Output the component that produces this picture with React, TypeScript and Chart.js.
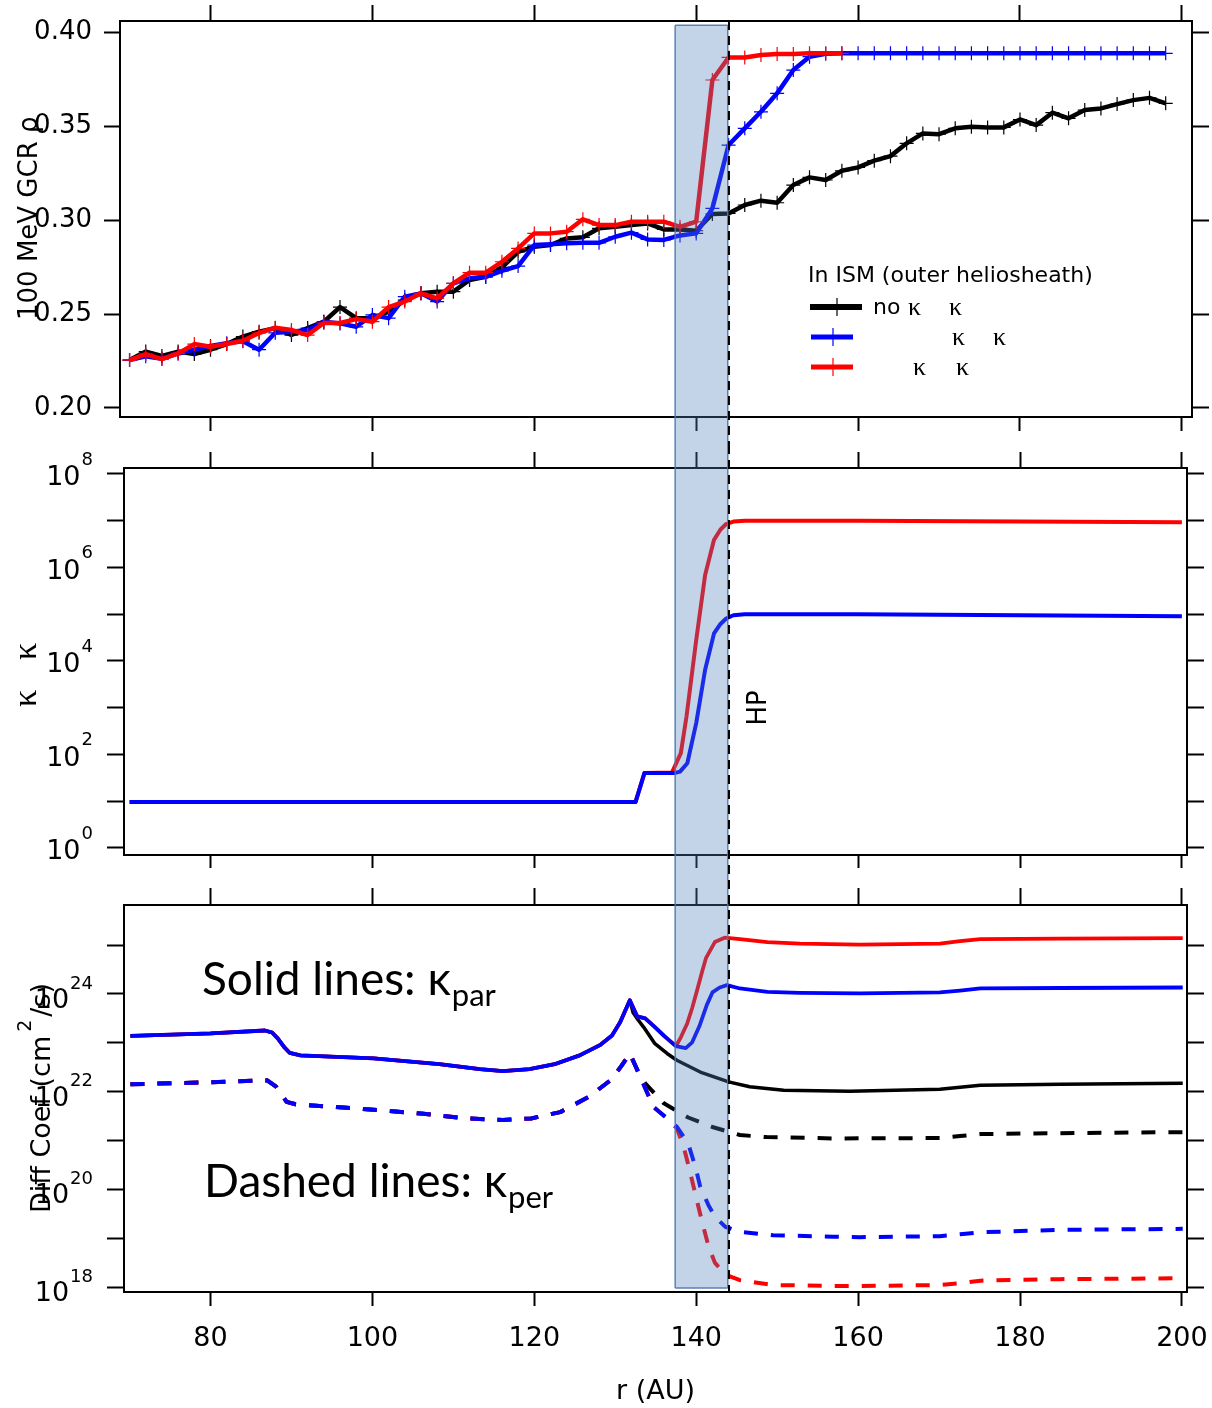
import { useEffect, useRef } from "react";
import { Chart, registerables } from "chart.js";

Chart.register(...registerables);
Chart.defaults.font.family = "DejaVu Sans";

// ---------------- shared x axis ----------------
const X_TICKS = [80, 100, 120, 140, 160, 180, 200];
const X_TITLE = "r (AU)";

// ---------------- shaded region / heliopause ----------------
const BAND_START_AU = 137.4;
const BAND_END_AU = 143.9;
const HELIOPAUSE_AU = 144.05;
const HELIOPAUSE_LABEL = "HP";

// ---------------- panel 1: 100 MeV GCR rho ----------------
const RHO_TITLE = "100 MeV GCR ρ";
const RHO_TICKS = [0.2, 0.25, 0.3, 0.35, 0.4];
const R_RHO = [
  70, 72, 74, 76, 78, 80, 82, 84, 86, 88, 90, 92, 94, 96, 98, 100, 102, 104, 106, 108,
  110, 112, 114, 116, 118, 120, 122, 124, 126, 128, 130, 132, 134, 136, 138, 140, 142, 144, 146, 148,
  150, 152, 154, 156, 158, 160, 162, 164, 166, 168, 170, 172, 174, 176, 178, 180, 182, 184, 186, 188,
  190, 192, 194, 196, 198,
];
const RHO_NO_CHANGE = [
  0.2255, 0.23, 0.2277, 0.23, 0.2287, 0.231, 0.234, 0.238, 0.2406, 0.2425,
  0.2388, 0.2425, 0.2459, 0.2537, 0.2478, 0.2478, 0.2512, 0.2574, 0.261, 0.2619,
  0.2619, 0.2681, 0.2698, 0.2748, 0.2831, 0.2858, 0.2867, 0.2902, 0.2908, 0.2956,
  0.2964, 0.2973, 0.2982, 0.295, 0.295, 0.2943, 0.3032, 0.3035, 0.308, 0.3103,
  0.3092, 0.3186, 0.3227, 0.3213, 0.3262, 0.328, 0.3316, 0.334, 0.3408, 0.3461,
  0.3457, 0.3488, 0.3496, 0.3493, 0.3493, 0.3535, 0.3505, 0.3571, 0.3541, 0.3585,
  0.3594, 0.3617, 0.3638, 0.365, 0.3621,
];
const RHO_BLUE = [
  0.2255, 0.2275, 0.2262, 0.229, 0.231, 0.233, 0.2345, 0.2355, 0.231, 0.24,
  0.2406, 0.2415, 0.2459, 0.245, 0.2432, 0.2495, 0.2478, 0.2592, 0.261, 0.2566,
  0.2663, 0.269, 0.2698, 0.273, 0.2755, 0.2867, 0.2871, 0.2876, 0.2879, 0.2879,
  0.2911, 0.2933, 0.2897, 0.2894, 0.2918, 0.2929, 0.3062, 0.3399, 0.3488, 0.3576,
  0.3674, 0.3798, 0.3869, 0.3885, 0.3887, 0.3887, 0.3887, 0.3887, 0.3887, 0.3887,
  0.3887, 0.3887, 0.3887, 0.3887, 0.3887, 0.3887, 0.3887, 0.3887, 0.3887, 0.3887,
  0.3887, 0.3887, 0.3887, 0.3887, 0.3887,
];
const R_RHO_RED = [
  70, 72, 74, 76, 78, 80, 82, 84, 86, 88, 90, 92, 94, 96, 98, 100, 102, 104, 106, 108,
  110, 112, 114, 116, 118, 120, 122, 124, 126, 128, 130, 132, 134, 136, 138, 140, 142, 144, 146, 148,
  150, 152, 154, 156, 158,
];
const RHO_RED = [
  0.2255, 0.2287, 0.226, 0.229, 0.234, 0.2326, 0.234, 0.2358, 0.2399, 0.2427,
  0.2415, 0.2388, 0.2452, 0.2452, 0.2473, 0.2459, 0.2537, 0.2566, 0.261, 0.2583,
  0.2663, 0.272, 0.272, 0.2778, 0.2849, 0.2929, 0.2929, 0.2938, 0.3004, 0.2973,
  0.2973, 0.2991, 0.2991, 0.2991, 0.2964, 0.2991, 0.3745, 0.3865, 0.3865, 0.3878,
  0.3883, 0.3883, 0.3887, 0.3887, 0.3887,
];
const LEGEND_TITLE = "In ISM (outer heliosheath)";

// ---------------- panel 2: kappa ratio ----------------
const RATIO_DECADES = [0, 1, 2, 3, 4, 5, 6, 7, 8];
const RATIO_LABELLED = [0, 2, 4, 6, 8];
const R_RATIO_BLUE = [70, 132.5, 133.6, 137.3, 138.0, 138.9, 140.0, 141.1, 142.2, 143.0, 143.7, 144.6, 146.0, 160, 200];
const RATIO_BLUE = [9.6, 9.6, 40, 40, 43, 65, 470, 6500, 39000, 62000, 81000, 95000, 100000, 100000, 91000];
const R_RATIO_RED = [70, 132.5, 133.6, 137.0, 138.1, 138.8, 140.0, 141.1, 142.2, 143.0, 143.7, 144.6, 146.0, 160, 200];
const RATIO_RED = [9.6, 9.6, 40, 41, 107, 650, 28000, 690000, 3.9e6, 6.5e6, 8.5e6, 9.6e6, 1.0e7, 1.0e7, 9.3e6];

// ---------------- panel 3: diffusion coefficients ----------------
const DIFF_DECADES = [18, 19, 20, 21, 22, 23, 24, 25];
const DIFF_LABELLED = [18, 20, 22, 24];
const ANNOT_PAR = "Solid lines: κ";
const ANNOT_PAR_SUB = "par";
const ANNOT_PER = "Dashed lines: κ";
const ANNOT_PER_SUB = "per";

// kappa_par, common part (all three runs)
const R_KPAR_INNER = [70.1, 80, 86.7, 87.6, 88.3, 89.1, 89.8, 91.1, 100.1, 108.3, 113.3, 116.1, 119.4, 122.5, 125.6, 128.1, 129.6, 130.6, 131.8];
const KPAR_INNER = [1.38e23, 1.55e23, 1.78e23, 1.62e23, 1.23e23, 8.13e22, 6.17e22, 5.5e22, 4.79e22, 3.63e22, 2.88e22, 2.63e22, 2.88e22, 3.63e22, 5.5e22, 8.91e22, 1.41e23, 2.63e23, 7.41e23];
const R_KPAR_BLUE_TAIL = [132.7, 133.7, 134.9, 136.1, 137.5, 138.7, 139.5, 140.4, 141.3, 142.0, 142.9, 143.8, 145.4, 148.8, 152.8, 160.2, 170.1, 172.6, 175.1, 185, 200.1];
const KPAR_BLUE_TAIL = [3.47e23, 3.16e23, 2.09e23, 1.35e23, 8.51e22, 7.76e22, 1.02e23, 2.19e23, 5.89e23, 1.07e24, 1.35e24, 1.51e24, 1.29e24, 1.1e24, 1.05e24, 1.02e24, 1.07e24, 1.17e24, 1.29e24, 1.32e24, 1.35e24];
const R_KPAR_RED_TAIL = [132.7, 133.7, 134.9, 136.1, 137.5, 138.1, 138.9, 139.5, 140.1, 140.7, 141.2, 142.3, 143.5, 145.4, 148.8, 152.8, 160.2, 170.1, 172.6, 175.1, 185, 200.1];
const KPAR_RED_TAIL = [3.47e23, 3.16e23, 2.09e23, 1.35e23, 8.51e22, 1.29e23, 2.51e23, 5.13e23, 1.17e24, 2.75e24, 5.37e24, 1.15e25, 1.41e25, 1.32e25, 1.15e25, 1.07e25, 1.02e25, 1.07e25, 1.2e25, 1.32e25, 1.35e25, 1.38e25];
const R_KPAR_BLACK_TAIL = [132.2, 132.85, 133.5, 134.9, 136.4, 137.6, 140.5, 144.0, 146.6, 150.8, 159, 170.1, 172.6, 175.1, 185, 200.1];
const KPAR_BLACK_TAIL = [4.17e23, 2.88e23, 2.09e23, 9.55e22, 6.03e22, 4.37e22, 2.51e22, 1.58e22, 1.26e22, 1.07e22, 1.02e22, 1.12e22, 1.23e22, 1.35e22, 1.41e22, 1.48e22];

// kappa_per, common part (all three runs)
const R_KPER_INNER = [70.1, 80, 87.0, 88.1, 89.4, 90.5, 98.5, 106, 111.7, 116.1, 119.6, 123.2, 126.7, 129.4, 130.7, 131.8];
const KPER_INNER = [1.41e22, 1.55e22, 1.7e22, 1.26e22, 6.17e21, 5.5e21, 4.47e21, 3.55e21, 2.82e21, 2.63e21, 2.82e21, 3.8e21, 7.76e21, 1.7e22, 3.24e22, 6.03e22];
const R_KPER_BLUE_TAIL = [133.1, 134.7, 136.4, 137.6, 139.0, 139.9, 140.5, 141.5, 142.3, 143.6, 145.4, 149.5, 156.9, 160.2, 170.1, 172.6, 175.1, 185, 200.1];
const KPER_BLUE_TAIL = [2.0e22, 4.9e21, 2.82e21, 1.91e21, 8.71e20, 2.88e20, 1.12e20, 4.79e19, 2.75e19, 1.7e19, 1.35e19, 1.15e19, 1.07e19, 1.05e19, 1.1e19, 1.2e19, 1.32e19, 1.48e19, 1.55e19];
const R_KPER_RED_TAIL = [133.1, 134.7, 136.4, 137.6, 138.4, 139.1, 139.9, 140.7, 141.5, 142.3, 143.6, 145.4, 149.5, 156.9, 160.2, 170.1, 172.6, 175.1, 185, 200.1];
const KPER_RED_TAIL = [2.0e22, 4.9e21, 2.82e21, 1.78e21, 7.94e20, 2.82e20, 7.94e19, 2.24e19, 7.08e18, 3.16e18, 1.78e18, 1.38e18, 1.1e18, 1.05e18, 1.05e18, 1.1e18, 1.2e18, 1.35e18, 1.45e18, 1.51e18];
const R_KPER_BLACK_TAIL = [133.1, 133.7, 136.0, 139.0, 142.1, 145.4, 148.7, 156.9, 170.1, 172.6, 175.1, 185, 200.1];
const KPER_BLACK_TAIL = [2.0e22, 1.48e22, 5.75e21, 2.95e21, 1.86e21, 1.29e21, 1.17e21, 1.1e21, 1.12e21, 1.23e21, 1.35e21, 1.41e21, 1.48e21];

// ---------------- styling / layout ----------------
const BLACK = "#000000";
const BLUE = "#0000ff";
const RED = "#ff0000";
const SANS = '"DejaVu Sans"';
const SERIF = '"Liberation Serif"';

const TOP_X_RANGE = [68.82, 201.25];
const LOW_X_RANGE = [69.31, 200.63];
const RHO_RANGE = [0.1952, 0.4059];
const RATIO_RANGE = [0.708, 1.343e8];
const DIFF_RANGE = [7.91e17, 6.59e25];
const BAND_TOP_RHO = 0.4037;
const BAND_BOTTOM_DIFF = 9.5e17;

const pts = (xs: number[], ys: number[]) => xs.map((x, i) => ({ x, y: ys[i] }));

function line(label: string, xs: number[], ys: number[], color: string, width: number, dash: number[] = []) {
  return {
    label,
    data: pts(xs, ys),
    borderColor: color,
    backgroundColor: color,
    borderWidth: width,
    borderDash: dash,
    borderJoinStyle: "round",
    pointRadius: 0,
    tension: 0,
    fill: false,
  };
}

function markedLine(label: string, xs: number[], ys: number[], color: string) {
  return {
    ...line(label, xs, ys, color, 4.5),
    pointStyle: "cross",
    pointRadius: 7,
    pointBorderWidth: 1.2,
    pointBorderColor: color,
    pointBackgroundColor: color,
  };
}

function noPad(s: any) {
  s.paddingLeft = 0;
  s.paddingRight = 0;
  s.paddingTop = 0;
  s.paddingBottom = 0;
}

function xAxis(position: "bottom" | "top", range: number[], box: number, tickLength: number, labels: boolean, title?: string) {
  return {
    type: "linear",
    position,
    min: range[0],
    max: range[1],
    bounds: "data",
    afterBuildTicks: (s: any) => {
      s.ticks = X_TICKS.map((value) => ({ value }));
    },
    afterFit: (s: any) => {
      s.height = box;
      noPad(s);
    },
    grid: { drawOnChartArea: false, drawTicks: true, tickLength, tickWidth: 2, tickColor: BLACK },
    border: { display: true, color: BLACK, width: 2 },
    ticks: {
      display: labels,
      autoSkip: false,
      maxRotation: 0,
      minRotation: 0,
      padding: 17,
      color: BLACK,
      font: { family: "DejaVu Sans", size: 27 },
    },
    title: title
      ? { display: true, text: title, color: BLACK, font: { family: "DejaVu Sans", size: 27 }, padding: { top: 0, bottom: 0 } }
      : { display: false },
  };
}

function yAxis(
  position: "left" | "right",
  type: string,
  range: number[],
  box: number,
  tickLength: number,
  values: number[],
  labels: boolean
) {
  return {
    type,
    position,
    min: range[0],
    max: range[1],
    bounds: "data",
    afterBuildTicks: (s: any) => {
      s.ticks = values.map((value) => ({ value }));
    },
    afterFit: (s: any) => {
      s.width = box;
      noPad(s);
    },
    grid: { drawOnChartArea: false, drawTicks: true, tickLength, tickWidth: 2, tickColor: BLACK },
    border: { display: true, color: BLACK, width: 2 },
    ticks: {
      display: labels,
      autoSkip: false,
      padding: 12,
      color: BLACK,
      font: { family: "DejaVu Sans", size: 26 },
      callback: (v: any) => Number(v).toFixed(2),
    },
  };
}

function baseOptions(scales: any) {
  return {
    responsive: false,
    maintainAspectRatio: false,
    animation: false,
    devicePixelRatio: 1,
    events: [],
    layout: { padding: 0 },
    plugins: { legend: { display: false }, tooltip: { enabled: false }, title: { display: false } },
    scales,
  };
}

// shaded band + dashed heliopause line, continuous across the three canvases
function bandAndHp(mode: "first" | "middle" | "last", edgeValue: number) {
  return {
    id: "bandAndHp",
    afterDatasetsDraw(chart: any) {
      const { ctx, chartArea } = chart;
      const xs = chart.scales.x;
      const ys = chart.scales.y;
      const h = chart.height;
      const xa = xs.getPixelForValue(BAND_START_AU);
      const xb = xs.getPixelForValue(BAND_END_AU);
      const y0 = mode === "first" ? ys.getPixelForValue(edgeValue) : 0;
      const y1 = mode === "last" ? ys.getPixelForValue(edgeValue) : h;
      ctx.save();
      ctx.fillStyle = "rgba(79,129,189,0.34)";
      ctx.fillRect(xa, y0, xb - xa, y1 - y0);
      ctx.strokeStyle = "rgba(75,120,180,0.9)";
      ctx.lineWidth = 1.5;
      ctx.beginPath();
      ctx.moveTo(xa, y0);
      ctx.lineTo(xa, y1);
      ctx.moveTo(xb, y0);
      ctx.lineTo(xb, y1);
      if (mode === "first") {
        ctx.moveTo(xa, y0);
        ctx.lineTo(xb, y0);
      }
      if (mode === "last") {
        ctx.moveTo(xa, y1);
        ctx.lineTo(xb, y1);
      }
      ctx.stroke();
      const xh = xs.getPixelForValue(HELIOPAUSE_AU);
      const h0 = mode === "first" ? chartArea.top : 0;
      const h1 = mode === "last" ? chartArea.bottom : h;
      ctx.setLineDash([9, 6]);
      ctx.strokeStyle = BLACK;
      ctx.lineWidth = 2;
      ctx.beginPath();
      ctx.moveTo(xh, h0);
      ctx.lineTo(xh, h1);
      ctx.stroke();
      ctx.restore();
    },
  };
}

// "10" with superscript exponent, right aligned
function powerLabels(exps: number[], mainDy: number, supDy: number) {
  return {
    id: "powerLabels",
    afterDraw(chart: any) {
      const { ctx } = chart;
      const ys = chart.scales.y;
      const right = 93;
      ctx.save();
      ctx.fillStyle = BLACK;
      ctx.textBaseline = "middle";
      ctx.textAlign = "right";
      for (const e of exps) {
        const y = ys.getPixelForValue(Math.pow(10, e));
        const sup = String(e);
        ctx.font = `18px ${SANS}`;
        const w = ctx.measureText(sup).width;
        ctx.fillText(sup, right, y + supDy);
        ctx.font = `27px ${SANS}`;
        ctx.fillText("10", right - w - 1, y + mainDy);
      }
      ctx.restore();
    },
  };
}

const rhoTexts = {
  id: "rhoTexts",
  afterDraw(chart: any) {
    const { ctx } = chart;
    ctx.save();
    ctx.fillStyle = BLACK;
    ctx.save();
    ctx.translate(37, 320);
    ctx.rotate(-Math.PI / 2);
    ctx.font = `26px ${SANS}`;
    ctx.textAlign = "left";
    ctx.textBaseline = "alphabetic";
    ctx.fillText(RHO_TITLE, 0, 0);
    ctx.restore();

    // legend
    ctx.font = `22px ${SANS}`;
    ctx.textAlign = "left";
    ctx.textBaseline = "middle";
    ctx.fillText(LEGEND_TITLE, 808, 276);
    const rows = [
      { color: BLACK, y: 307, x0: 810, x1: 862, mx: 837, lw: 6, parts: [["no", 873, SANS], ["κ", 908, SERIF], ["κ", 949, SERIF]] },
      { color: BLUE, y: 337, x0: 811, x1: 853, mx: 833, lw: 5, parts: [["κ", 952, SERIF], ["κ", 993, SERIF]] },
      { color: RED, y: 367, x0: 811, x1: 853, mx: 833, lw: 5, parts: [["κ", 913, SERIF], ["κ", 956, SERIF]] },
    ];
    for (const r of rows) {
      ctx.strokeStyle = r.color;
      ctx.lineWidth = r.lw;
      ctx.beginPath();
      ctx.moveTo(r.x0, r.y);
      ctx.lineTo(r.x1, r.y);
      ctx.stroke();
      ctx.lineWidth = 1.2;
      ctx.beginPath();
      ctx.moveTo(r.mx, r.y - 9);
      ctx.lineTo(r.mx, r.y + 9);
      ctx.stroke();
      ctx.fillStyle = BLACK;
      for (const [t, x, fam] of r.parts as any) {
        ctx.font = fam === SANS ? `22px ${SANS}` : `26px ${SERIF}`;
        ctx.fillText(t, x, r.y + 1);
      }
    }
    ctx.restore();
  },
};

const ratioTexts = {
  id: "ratioTexts",
  afterDraw(chart: any) {
    const { ctx } = chart;
    ctx.save();
    ctx.fillStyle = BLACK;
    ctx.save();
    ctx.translate(36, 262);
    ctx.rotate(-Math.PI / 2);
    ctx.font = `34px ${SERIF}`;
    ctx.textAlign = "left";
    ctx.textBaseline = "alphabetic";
    ctx.fillText("κ", 0, 0);
    ctx.fillText("κ", 47, 0);
    ctx.restore();
    ctx.save();
    ctx.translate(759, 263);
    ctx.rotate(-Math.PI / 2);
    ctx.font = `26px ${SANS}`;
    ctx.textAlign = "center";
    ctx.textBaseline = "middle";
    ctx.fillText(HELIOPAUSE_LABEL, 0, 0);
    ctx.restore();
    ctx.restore();
  },
};

const diffTexts = {
  id: "diffTexts",
  afterDraw(chart: any) {
    const { ctx } = chart;
    ctx.save();
    ctx.fillStyle = BLACK;
    // y title with superscript
    ctx.save();
    ctx.translate(50, 333);
    ctx.rotate(-Math.PI / 2);
    ctx.textAlign = "left";
    ctx.textBaseline = "alphabetic";
    ctx.font = `27px ${SANS}`;
    const p1 = "Diff Coef (cm";
    ctx.fillText(p1, 0, 0);
    let x = ctx.measureText(p1).width + 4;
    ctx.font = `19px ${SANS}`;
    ctx.fillText("2", x, -19);
    x += ctx.measureText("2").width + 3;
    ctx.font = `27px ${SANS}`;
    ctx.fillText("/s)", x, 0);
    ctx.restore();

    // annotations
    const notes: [string, string, number, number][] = [
      [ANNOT_PAR, ANNOT_PAR_SUB, 202, 115],
      [ANNOT_PER, ANNOT_PER_SUB, 204, 317],
    ];
    ctx.textAlign = "left";
    ctx.textBaseline = "alphabetic";
    for (const [main, sub, nx, ny] of notes) {
      ctx.font = `46px Lato, ${SANS}`;
      ctx.fillText(main, nx, ny);
      const w = ctx.measureText(main).width;
      ctx.font = `31px Lato, ${SANS}`;
      ctx.fillText(sub, nx + w + 1, ny + 11);
    }
    ctx.restore();
  },
};

function buildRhoChart() {
  return {
    type: "line",
    data: {
      datasets: [
        markedLine("red", R_RHO_RED, RHO_RED, RED),
        markedLine("blue", R_RHO, RHO_BLUE, BLUE),
        markedLine("no change", R_RHO, RHO_NO_CHANGE, BLACK),
      ],
    },
    options: baseOptions({
      x: xAxis("bottom", TOP_X_RANGE, 28, 14, false),
      xTop: xAxis("top", TOP_X_RANGE, 21, 16, false),
      y: yAxis("left", "linear", RHO_RANGE, 120, 16, RHO_TICKS, true),
      yRight: yAxis("right", "linear", RHO_RANGE, 1212 - 1192, 17, RHO_TICKS, false),
    }),
    plugins: [bandAndHp("first", BAND_TOP_RHO), rhoTexts],
  };
}

function buildRatioChart() {
  const decades = RATIO_DECADES.map((e) => Math.pow(10, e));
  return {
    type: "line",
    data: {
      datasets: [
        line("blue", R_RATIO_BLUE, RATIO_BLUE, BLUE, 4),
        line("red", R_RATIO_RED, RATIO_RED, RED, 4),
      ],
    },
    options: baseOptions({
      x: xAxis("bottom", LOW_X_RANGE, 25, 13, false),
      xTop: xAxis("top", LOW_X_RANGE, 23, 16, false),
      y: yAxis("left", "logarithmic", RATIO_RANGE, 124, 17, decades, false),
      yRight: yAxis("right", "logarithmic", RATIO_RANGE, 1212 - 1187, 17, decades, false),
    }),
    plugins: [bandAndHp("middle", 0), powerLabels(RATIO_LABELLED, 4, -14), ratioTexts],
  };
}

function buildDiffChart() {
  const decades = DIFF_DECADES.map((e) => Math.pow(10, e));
  const dash = [14, 13];
  return {
    type: "line",
    data: {
      datasets: [
        line("blue par", [...R_KPAR_INNER, ...R_KPAR_BLUE_TAIL], [...KPAR_INNER, ...KPAR_BLUE_TAIL], BLUE, 3.8),
        line("blue per", [...R_KPER_INNER, ...R_KPER_BLUE_TAIL], [...KPER_INNER, ...KPER_BLUE_TAIL], BLUE, 4, dash),
        line("red par", [...R_KPAR_INNER, ...R_KPAR_RED_TAIL], [...KPAR_INNER, ...KPAR_RED_TAIL], RED, 3.8),
        line("red per", [...R_KPER_INNER, ...R_KPER_RED_TAIL], [...KPER_INNER, ...KPER_RED_TAIL], RED, 4, dash),
        line("black par", [...R_KPAR_INNER, ...R_KPAR_BLACK_TAIL], [...KPAR_INNER, ...KPAR_BLACK_TAIL], BLACK, 3.5),
        line("black per", [...R_KPER_INNER, ...R_KPER_BLACK_TAIL], [...KPER_INNER, ...KPER_BLACK_TAIL], BLACK, 4, dash),
      ],
    },
    options: baseOptions({
      x: xAxis("bottom", LOW_X_RANGE, 116, 14, true, X_TITLE),
      xTop: xAxis("top", LOW_X_RANGE, 25, 17, false),
      y: yAxis("left", "logarithmic", DIFF_RANGE, 124, 17, decades, false),
      yRight: yAxis("right", "logarithmic", DIFF_RANGE, 1212 - 1187, 17, decades, false),
    }),
    plugins: [bandAndHp("last", BAND_BOTTOM_DIFF), powerLabels(DIFF_LABELLED, 7, -10), diffTexts],
  };
}

function ChartCanvas({ top, height, build }: { top: number; height: number; build: () => any }) {
  const ref = useRef<HTMLCanvasElement>(null);
  useEffect(() => {
    const chart = new Chart(ref.current as HTMLCanvasElement, build() as any);
    return () => chart.destroy();
  }, []);
  return (
    <canvas
      ref={ref}
      width={1212}
      height={height}
      style={{ position: "absolute", left: 0, top, width: 1212, height, display: "block" }}
    />
  );
}

export default function App() {
  return (
    <div style={{ position: "absolute", left: 0, top: 0, width: 1212, height: 1408, background: "#ffffff" }}>
      <ChartCanvas top={0} height={445} build={buildRhoChart} />
      <ChartCanvas top={445} height={435} build={buildRatioChart} />
      <ChartCanvas top={880} height={528} build={buildDiffChart} />
    </div>
  );
}
